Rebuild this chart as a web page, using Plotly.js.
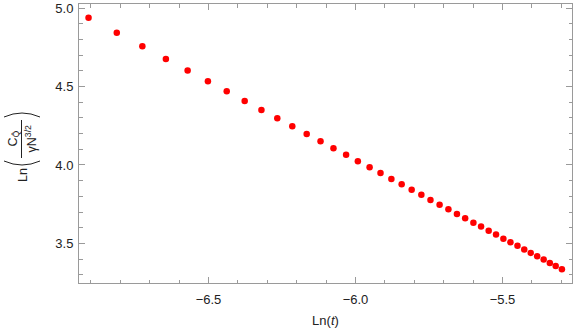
<!DOCTYPE html>
<html>
<head>
<meta charset="utf-8">
<script src="https://cdn.plot.ly/plotly-3.0.1.min.js"></script>
<style>html,body{margin:0;padding:0;background:#fff;}#chart{width:581px;height:332px;}</style>
</head>
<body>
<div id="chart"></div>
<script>
// ln(t) values
const lnT = [-6.908, -6.812, -6.725, -6.645, -6.571, -6.502, -6.438, -6.377, -6.320, -6.266,
  -6.215, -6.166, -6.119, -6.075, -6.032, -5.992, -5.952, -5.915, -5.878, -5.843,
  -5.809, -5.776, -5.745, -5.714, -5.684, -5.655, -5.627, -5.599, -5.573, -5.547,
  -5.522, -5.497, -5.473, -5.449, -5.426, -5.404, -5.382, -5.360, -5.339, -5.319, -5.298];
// Ln(C / (gamma N^{3/2})) values
const lnC = [4.940, 4.844, 4.757, 4.676, 4.602, 4.534, 4.470, 4.408, 4.351, 4.298,
  4.247, 4.198, 4.151, 4.106, 4.066, 4.023, 3.985, 3.949, 3.910, 3.877,
  3.842, 3.810, 3.776, 3.746, 3.717, 3.687, 3.660, 3.632, 3.607, 3.581,
  3.556, 3.530, 3.507, 3.484, 3.460, 3.439, 3.418, 3.397, 3.375, 3.356, 3.335];
const xTickVals = [-6.5, -6.0, -5.5];
const yTickVals = [3.5, 4.0, 4.5, 5.0];

const W = 581, H = 332;
const L = 79, R = 9, T = 4, B = 49;
const pw = W - L - R, ph = H - T - B;
const px = v => (v - L) / pw;      // pixel x -> paper
const py = v => (H - B - v) / ph;  // pixel y -> paper

const font = {family: 'Liberation Sans, Arial, sans-serif', size: 13, color: '#222'};
const frame = '#9a9a9a';

const axisCommon = {
  showline: true, linecolor: frame, linewidth: 1, mirror: 'ticks',
  ticks: 'inside', ticklen: 6, tickcolor: frame, tickwidth: 1,
  showgrid: false, zeroline: false, tickfont: font, tickformat: '.1f',
  minor: {ticks: 'inside', ticklen: 3.5, tickcolor: frame, tickwidth: 1, dtick: 0.1, showgrid: false}
};

const ann = (text, x, y, size) => ({
  text: text, xref: 'paper', yref: 'paper', x: px(x), y: py(y),
  showarrow: false, textangle: -90, xanchor: 'center', yanchor: 'middle',
  font: {family: font.family, size: size, color: '#222'}
});

// bracket curve (in pixel coordinates) -> paper path
const curve = (x0, y0, cx, cy, x1, y1) =>
  'M ' + px(x0) + ',' + py(y0) + ' Q ' + px(cx) + ',' + py(cy) + ' ' + px(x1) + ',' + py(y1);

const data = [{
  x: lnT, y: lnC, type: 'scatter', mode: 'markers',
  marker: {color: '#ff0000', size: 6.5},
  hoverinfo: 'skip'
}];

const ink = {color: '#222', width: 1};

const layout = {
  width: W, height: H,
  margin: {l: L, r: R, t: T, b: B, pad: 0},
  paper_bgcolor: '#fff', plot_bgcolor: '#fff',
  showlegend: false,
  xaxis: Object.assign({}, axisCommon, {
    range: [-6.9405, -5.2636], tickvals: xTickVals, ticklabelstandoff: 4,
    title: {text: 'Ln(<i>t</i>)', font: font, standoff: 10}
  }),
  yaxis: Object.assign({}, axisCommon, {
    range: [3.247, 5.027], tickvals: yTickVals, ticklabelstandoff: 2
  }),
  annotations: [
    ann('Ln', 23, 175, 12.5),
    ann('C<sub>Q\u0302</sub>', 13.5, 139, 12.5),
    ann('\u03B3N<sup>3/2</sup>', 30.5, 139, 12.5)
  ],
  shapes: [
    {type: 'line', xref: 'paper', yref: 'paper',
     x0: px(21.5), x1: px(21.5), y0: py(158), y1: py(120), line: ink},
    {type: 'path', xref: 'paper', yref: 'paper', path: curve(4, 161, 22, 169, 40, 161), line: ink},
    {type: 'path', xref: 'paper', yref: 'paper', path: curve(4, 117, 22, 109, 40, 117), line: ink}
  ]
};

Plotly.newPlot('chart', data, layout, {staticPlot: true, displayModeBar: false});
</script>
</body>
</html>
